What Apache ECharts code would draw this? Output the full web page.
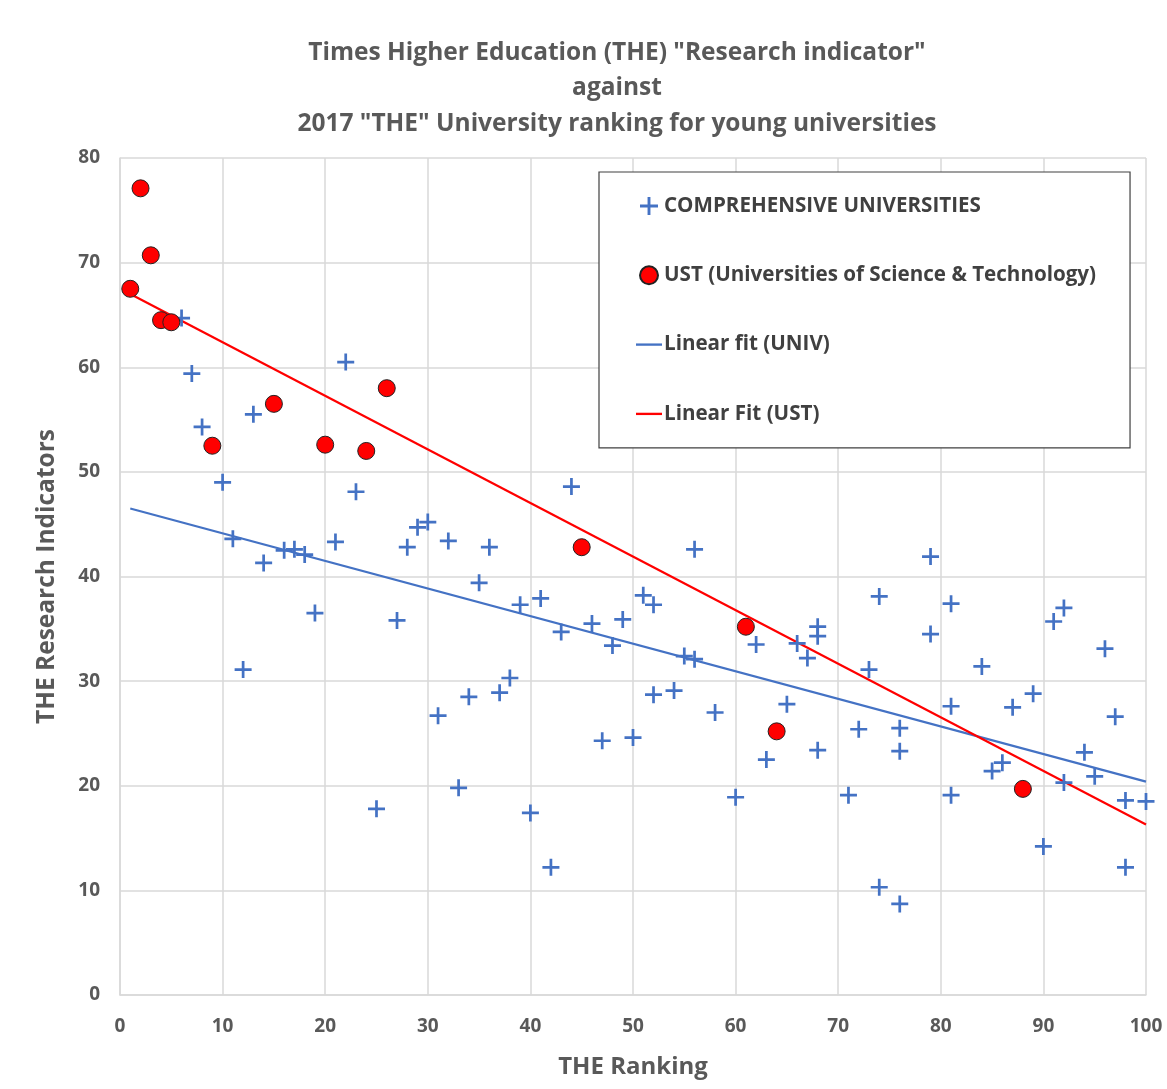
<!DOCTYPE html>
<html><head><meta charset="utf-8">
<script src="https://cdn.jsdelivr.net/npm/echarts@6/dist/echarts.min.js"></script>
<style>html,body{margin:0;padding:0;background:#fff}#c{width:1167px;height:1089px}</style>
</head><body><div id="c"></div>
<script>
const titleLines = ['Times Higher Education (THE) "Research indicator"', 'against', '2017 "THE" University ranking for young universities'];
const xTicks = [0,10,20,30,40,50,60,70,80,90,100];
const yTicks = [0,10,20,30,40,50,60,70,80];
const univX = [6,7,8,10,11,12,13,14,16,17,18,19,21,22,23,25,27,28,29,30,31,32,33,34,35,36,37,38,39,40,41,42,43,44,46,47,48,49,50,51,52,52,54,55,56,56,58,60,62,63,65,66,67,68,68,68,71,72,73,74,74,76,76,76,79,79,81,81,81,84,85,86,87,89,90,91,92,92,94,95,96,97,98,98,100];
const univY = [64.7,59.4,54.3,49.0,43.6,31.1,55.5,41.3,42.5,42.6,42.1,36.5,43.3,60.5,48.1,17.8,35.8,42.8,44.7,45.2,26.7,43.4,19.8,28.5,39.4,42.8,28.9,30.3,37.3,17.4,37.9,12.2,34.7,48.6,35.5,24.3,33.4,35.9,24.6,38.2,37.3,28.7,29.1,32.4,42.6,32.1,27.0,18.9,33.5,22.5,27.8,33.6,32.2,35.2,34.3,23.4,19.1,25.4,31.1,38.1,10.3,25.5,23.3,8.7,41.9,34.5,37.4,27.6,19.1,31.4,21.4,22.2,27.5,28.8,14.2,35.7,37.0,20.3,23.2,20.9,33.1,26.6,18.6,12.2,18.5];
const ustX = [1,2,3,4,5,9,15,20,24,26,45,61,64,88];
const ustY = [67.5,77.1,70.7,64.5,64.3,52.5,56.5,52.6,52.0,58.0,42.8,35.2,25.2,19.7];
const univFitX = [1,100];
const univFitY = [46.5,20.4];
const ustFitX = [1,100];
const ustFitY = [67.0,16.3];
const seriesNames = ['COMPREHENSIVE UNIVERSITIES','UST (Universities of Science & Technology)','Linear fit (UNIV)','Linear Fit (UST)'];

const zip = (a,b) => a.map((v,i)=>[v,b[i]]);
const plus = 'path://M42,0H58V42H100V58H58V100H42V58H0V42H42Z';
const lineIcon = 'path://M0,0H100V9H0Z';
const FONT = 'Open Sans';
const grey = '#595959';

const chart = echarts.init(document.getElementById('c'));
chart.setOption({
  animation:false,
  backgroundColor:'#fff',
  title:{
    text: titleLines.join('\n'),
    left: 612, top: 30, textAlign:'center',
    textStyle:{fontFamily:FONT,fontSize:24.5,fontWeight:'bold',color:grey,lineHeight:35.5}
  },
  grid:{left:120,right:21,top:158,bottom:94},
  legend:{
    orient:'vertical', left:599, top:172,
    padding:[22,34,22,37],
    itemGap:45.3, itemWidth:26, itemHeight:18,
    borderColor:'#404040', borderWidth:1.2, backgroundColor:'#fff',
    textStyle:{fontFamily:FONT,fontSize:20.6,fontWeight:'bold',color:'#404040',lineHeight:24,padding:[0,0,0,-3]},
    data:[
      {name:seriesNames[0], icon:plus},
      {name:seriesNames[1], icon:'circle'},
      {name:seriesNames[2], icon:lineIcon},
      {name:seriesNames[3], icon:lineIcon}
    ]
  },
  xAxis:{
    type:'value', min:0, max:100, interval:10,
    name:'THE Ranking', nameLocation:'middle', nameGap:60,
    nameTextStyle:{fontFamily:FONT,fontSize:24,fontWeight:'bold',color:grey},
    axisLine:{show:true,lineStyle:{color:'#d9d9d9',width:1.5}},
    axisTick:{show:false},
    axisLabel:{fontFamily:FONT,fontSize:19,fontWeight:'bold',color:grey,margin:22},
    splitLine:{show:true,lineStyle:{color:'#d9d9d9',width:1.5}}
  },
  yAxis:{
    type:'value', min:0, max:80, interval:10,
    name:'THE Research Indicators', nameLocation:'middle', nameGap:60, nameRotate:90,
    nameTextStyle:{fontFamily:FONT,fontSize:24.5,fontWeight:'bold',color:grey},
    axisLine:{show:true,lineStyle:{color:'#d9d9d9',width:1.5}},
    axisTick:{show:false},
    axisLabel:{fontFamily:FONT,fontSize:19,fontWeight:'bold',color:grey,margin:20},
    splitLine:{show:true,lineStyle:{color:'#d9d9d9',width:1.5}}
  },
  series:[
    {name:seriesNames[2], type:'line', data:zip(univFitX,univFitY), symbol:'none', z:3,
     lineStyle:{color:'#4472C4',width:2.2}, itemStyle:{color:'#4472C4'}},
    {name:seriesNames[3], type:'line', data:zip(ustFitX,ustFitY), symbol:'none', z:3,
     lineStyle:{color:'#FF0000',width:2.2}, itemStyle:{color:'#FF0000'}},
    {name:seriesNames[0], type:'scatter', data:zip(univX,univY), symbol:plus, symbolSize:17, z:4,
     itemStyle:{color:'#4472C4',opacity:1}},
    {name:seriesNames[1], type:'scatter', data:zip(ustX,ustY), symbol:'circle', symbolSize:17, z:5,
     itemStyle:{color:'#FF0000',borderColor:'#222',borderWidth:1,opacity:1}}
  ]
});
</script></body></html>
